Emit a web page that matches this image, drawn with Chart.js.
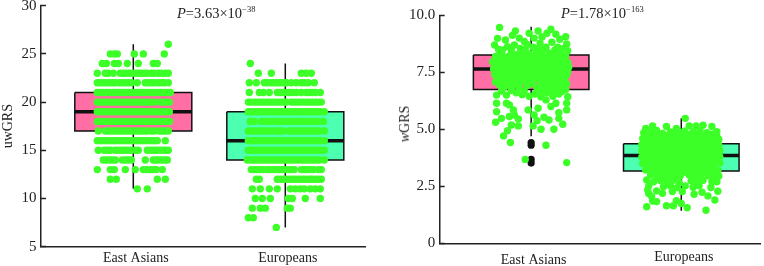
<!DOCTYPE html>
<html>
<head>
<meta charset="utf-8">
<script src="https://cdn.jsdelivr.net/npm/chart.js@4"></script>
<style>
  html, body { margin: 0; padding: 0; background: #fff; overflow: hidden; }
  body { position: relative; width: 764px; height: 266px; font-family: "Liberation Serif", serif; color: #222; }
  canvas { position: absolute; top: 0; }
  .pval { position: absolute; font-size: 14.5px; line-height: 16px; white-space: nowrap; }
  .pval sup { font-size: 8.5px; line-height: 0; vertical-align: 6px; }
  .ylab { position: absolute; font-size: 14px; transform: translate(-50%, -50%) rotate(-90deg); white-space: nowrap; }
</style>
</head>
<body>
<canvas id="uwChart" width="380" height="266" style="left:0"></canvas>
<canvas id="wChart" width="384" height="266" style="left:380px"></canvas>
<div class="pval" style="left:177px;top:5px"><i>P</i>=3.63×10<sup>−38</sup></div>
<div class="pval" style="left:561px;top:5px"><i>P</i>=1.78×10<sup>−163</sup></div>
<div class="ylab" style="left:405px;top:124px"><i>w</i>GRS</div>
<script>
const groups = ['East Asians', 'Europeans'];
// x axis is in jitter units, the two groups sit at these positions
const groupCenters = [0, 152];

// box stats: [whisker low, q1, median, q3, whisker high]
const uwEastBox = [11, 17, 19, 21, 26];
const uwEuroBox = [7, 14, 16, 19, 24];
const wEastBox = [4.7, 6.75, 7.65, 8.26, 9.5];
const wEuroBox = [1.43, 3.17, 3.85, 4.37, 5.48];
const boxHalfWidth = 58.5;

const wEastOutliers = [4.3, 4.42, 3.68, 3.52];

// uwGRS is a whole number, so dots are listed as [score, jitter offsets]
const uwEastRows = [
  [26, [35]],
  [25, [-23, -19, -16, 1, 10, 31]],
  [24, [-31, -27, -19, -15, -6, 5, 20, 24]],
  [23, [-36, -28, -25, -20, -13, -10, -7, -4, -1, 2, 5, 8, 11, 14, 18, 21, 25, 28, 32, 35]],
  [22, [-36, -33, -30, -27, -24, -21, -18, -14, -11, -8, -5, -2, 4, 12, 15, 18, 21, 25, 28, 31, 35]],
  [21, [-36, -33, -30, -27, -24, -20, -17, -14, -11, -8, -5, -2, 1, 4, 7, 10, 13, 16, 19, 22, 25, 28, 31, 34, 37]],
  [20, [-36, -33, -30, -27, -24, -21, -18, -15, -12, -9, -6, -3, 0, 3, 6, 9, 12, 15, 18, 21, 27, 30, 33, 36]],
  [19, [-36, -33, -30, -27, -24, -21, -18, -15, -12, -9, -6, -3, 0, 3, 6, 9, 12, 15, 18, 21, 24, 27, 30, 33, 36]],
  [18, [-36, -33, -30, -27, -24, -21, -18, -15, -12, -9, -6, -3, 0, 3, 6, 9, 12, 15, 18, 21, 24, 27, 30, 33, 36]],
  [17, [-35, -28, -25, -22, -19, -16, -13, -10, -7, -4, -1, 2, 5, 8, 11, 14, 18, 21, 26, 29, 32, 35]],
  [16, [-36, -33, -30, -27, -24, -21, -18, -15, -12, -9, -6, -3, 0, 3, 6, 9, 12, 15, 18, 21, 24, 32]],
  [15, [-35, -29, -26, -23, -18, -15, -12, -9, -6, -3, 2, 5, 14, 17, 20, 23, 26, 29, 32, 35]],
  [14, [-30, -27, -24, -21, -18, -11, -8, -5, -2, 12, 20, 23, 26, 29, 32, 34]],
  [13, [-36, -23, -19, -8, 2, 10, 13, 17, 20, 23, 29]],
  [12, [-23, -17, 24, 32]],
  [11, [4, 14]]
];
const uwEuroRows = [
  [24, [-35]],
  [23, [-27, -14, 16, 21, 26]],
  [22, [-36, -29, -21, -18, -15, -12, -9, -6, -3, 0, 1, 6, 11, 16, 19, 23, 29]],
  [21, [-36, -26, -22, -16, -8, -5, -2, 1, 4, 7, 11, 16, 21, 24, 27, 30, 35]],
  [20, [-37, -34, -31, -28, -25, -22, -19, -16, -13, -10, -7, -4, -1, 1, 6, 9, 12, 15, 18, 21, 24, 27, 30, 33, 36]],
  [19, [-37, -34, -31, -28, -25, -22, -19, -16, -13, -10, -7, -4, -1, 2, 5, 8, 11, 14, 17, 20, 23, 26, 29, 32, 35, 39]],
  [18, [-35, -31, -24, -21, -18, -15, -12, -9, -6, -3, 0, 3, 6, 9, 12, 15, 18, 21, 24, 27, 30, 33, 38]],
  [17, [-37, -34, -31, -27, -24, -21, -18, -15, -11, -8, -5, -2, 4, 7, 10, 13, 16, 19, 22, 25, 28, 31, 34, 39]],
  [16, [-37, -34, -31, -28, -25, -22, -19, -16, -13, -10, -7, -4, -1, 2, 5, 8, 11, 14, 17, 20, 23, 26, 29, 32, 35, 39]],
  [15, [-37, -34, -31, -28, -25, -22, -19, -16, -13, -10, -7, -4, -1, 2, 5, 8, 11, 14, 17, 20, 23, 26, 29, 32, 35, 39]],
  [14, [-38, -35, -32, -29, -26, -23, -20, -17, -14, -11, -8, -5, -2, 1, 4, 7, 10, 13, 16, 19, 22, 25, 28, 31, 34, 39]],
  [13, [-34, -31, -28, -25, -22, -18, -15, -12, -9, -6, -3, 0, 3, 6, 9, 16, 19, 22, 25, 28, 33, 36]],
  [12, [-29, -26, -8, -5, -2, 1, 4, 7, 10, 13, 16, 19, 22, 25, 27, 30, 33, 36]],
  [11, [-33, -25, -16, -8, 5, 10, 15, 19, 25, 30, 35]],
  [10, [-30, -23, -15, 3, 7, 20, 35]],
  [9, [-33, -25, -20, 2, 5]],
  [8, [-37, -32]],
  [7, [-9]]
];

// wGRS dots read as [jitter offset, score]
const wEastDots = [
  [-32, 9.47], [-16, 9.31], [-19, 9.12], [-2, 9.21], [7, 9.31], [20, 9.39], [16, 9.21], [25, 9.17], [35, 9.06],
  [-34, 8.99], [-26, 8.92], [-7, 8.85], [-37, 8.7], [36, 8.74], [3, 9.0], [11, 9.05], [29, 8.95], [-12, 9.0],
  [-33, 8.5], [-24, 8.62], [-17, 8.7], [-11, 8.55], [-4, 8.72], [2, 8.6], [9, 8.78], [15, 8.6], [21, 8.82], [27, 8.6], [33, 8.55], [37, 8.45],
  [-36, 8.2], [-30, 8.3], [-20, 8.35], [-14, 8.28], [-8, 8.4], [-2, 8.3], [5, 8.38], [11, 8.25], [18, 8.35], [24, 8.22], [30, 8.33], [35, 8.2],
  [-39, 7.95], [-33, 8.02], [-27, 8.05], [-22, 7.98], [-16, 8.05], [-10, 7.95], [-4, 8.06], [2, 7.95], [8, 8.05], [14, 7.96], [20, 8.07], [26, 7.98], [32, 8.03], [37, 7.92],
  [-38, 7.65], [-32, 7.75], [-26, 7.7], [-20, 7.78], [-14, 7.68], [-8, 7.76], [-2, 7.7], [4, 7.78], [10, 7.67], [16, 7.75], [22, 7.7], [28, 7.78], [34, 7.66], [38, 7.72],
  [-37, 7.4], [-30, 7.48], [-24, 7.42], [-18, 7.5], [-12, 7.4], [-6, 7.46], [0, 7.38], [7, 7.48], [13, 7.4], [19, 7.5], [25, 7.42], [31, 7.47], [36, 7.38],
  [-36, 7.08], [-29, 7.16], [-22, 7.1], [-17, 7.2], [-9, 7.12], [-3, 7.2], [9, 7.15], [15, 7.08], [21, 7.2], [27, 7.1], [33, 7.18], [36, 7.0],
  [-27, 6.85], [-19, 6.9], [-12, 6.84], [-4, 6.92], [6, 6.8], [12, 6.86], [18, 6.94], [24, 6.82], [30, 6.9], [35, 6.75],
  [-35, 6.5], [-25, 6.5], [-15, 6.6], [-9, 6.52], [-2, 6.45], [4, 6.55], [10, 6.42], [16, 6.6], [22, 6.45], [28, 6.55], [37, 6.43],
  [-35, 6.14], [-25, 6.14], [-22, 6.07], [-3, 5.85], [7, 5.92], [15, 6.29], [20, 6.0], [25, 6.14], [36, 6.14], [-18, 5.85],
  [-35, 5.77], [-17, 5.63], [3, 5.63], [28, 5.73], [36, 5.85], [-30, 5.48], [-22, 5.56], [-13, 5.45], [13, 5.53], [18, 5.41], [28, 5.48], [6, 5.38],
  [-36, 5.31], [-20, 5.19], [-13, 5.15], [2, 5.15], [32, 5.22], [10, 5.0], [23, 5.0], [-24, 4.94], [-28, 4.71], [-21, 4.42], [15, 4.3], [-6, 3.68], [36, 3.54],
  // dense middle of the cloud
  [-29, 8.48], [-20, 8.52], [-6, 8.5], [6, 8.52], [12, 8.5], [24, 8.48], [30, 8.5],
  [-33, 8.18], [-27, 8.16], [-23, 8.2], [-17, 8.16], [-11, 8.14], [-5, 8.18], [1, 8.15], [8, 8.18], [15, 8.14], [21, 8.18], [27, 8.15], [33, 8.12],
  [-36, 7.88], [-30, 7.86], [-24, 7.88], [-19, 7.85], [-13, 7.88], [-7, 7.86], [-1, 7.88], [5, 7.85], [11, 7.88], [17, 7.85], [23, 7.88], [29, 7.86], [35, 7.84],
  [-35, 7.56], [-29, 7.58], [-23, 7.6], [-17, 7.57], [-11, 7.58], [-5, 7.6], [1, 7.56], [7, 7.6], [13, 7.56], [19, 7.6], [25, 7.58], [31, 7.56], [37, 7.52],
  [-33, 7.28], [-27, 7.26], [-21, 7.3], [-15, 7.26], [-9, 7.28], [-2, 7.3], [4, 7.24], [10, 7.28], [16, 7.26], [22, 7.3], [28, 7.26], [34, 7.28],
  [-32, 6.95], [-25, 6.98], [-14, 7.0], [1, 7.0], [9, 6.95], [15, 6.98], [21, 7.0], [27, 6.95], [33, 6.98],
  [-30, 6.68], [-20, 6.7], [-7, 6.68], [7, 6.66], [13, 6.7], [19, 6.68], [25, 6.7], [31, 6.66]
];
const wEuroDots = [
  [4, 5.48], [-36, 5.04], [-29, 5.15], [-15, 5.12], [-5, 5.04], [8, 5.15], [15, 5.15], [22, 5.18], [31, 5.12], [36, 4.9],
  [-38, 4.85], [-32, 4.9], [-25, 4.95], [-19, 4.82], [-11, 4.88], [-2, 4.85], [3, 4.92], [12, 4.9], [19, 4.94], [26, 4.85], [32, 4.78],
  [-39, 4.6], [-33, 4.62], [-27, 4.65], [-21, 4.58], [-15, 4.62], [-9, 4.68], [-3, 4.6], [3, 4.65], [9, 4.58], [15, 4.66], [21, 4.6], [27, 4.65], [33, 4.58], [38, 4.55],
  [-40, 4.32], [-34, 4.38], [-28, 4.35], [-22, 4.4], [-16, 4.33], [-10, 4.38], [-4, 4.32], [2, 4.4], [8, 4.33], [14, 4.38], [20, 4.32], [26, 4.4], [32, 4.33], [38, 4.3],
  [-40, 4.05], [-34, 4.1], [-28, 4.02], [-22, 4.1], [-16, 4.04], [-10, 4.12], [-4, 4.05], [2, 4.1], [8, 4.02], [14, 4.1], [20, 4.05], [26, 4.12], [32, 4.04], [39, 4.08],
  [-40, 3.78], [-34, 3.84], [-28, 3.76], [-22, 3.85], [-16, 3.78], [-10, 3.85], [-4, 3.76], [2, 3.84], [8, 3.78], [14, 3.85], [20, 3.78], [26, 3.84], [32, 3.76], [39, 3.8],
  [-39, 3.5], [-33, 3.56], [-27, 3.5], [-21, 3.58], [-15, 3.5], [-9, 3.56], [-3, 3.48], [3, 3.56], [9, 3.5], [15, 3.58], [21, 3.5], [27, 3.56], [33, 3.48], [39, 3.52],
  [-36, 3.22], [-30, 3.28], [-24, 3.2], [-18, 3.3], [-12, 3.22], [-6, 3.28], [0, 3.2], [6, 3.28], [12, 3.2], [18, 3.3], [24, 3.22], [30, 3.28], [37, 3.2],
  [-31, 3.0], [-25, 2.98], [-19, 3.04], [-13, 2.95], [-7, 3.02], [-1, 2.96], [8, 3.0], [14, 2.94], [20, 3.03], [27, 2.96], [33, 3.0], [38, 2.95],
  [-35, 2.78], [-28, 2.7], [-21, 2.75], [-14, 2.68], [-8, 2.76], [-2, 2.66], [10, 2.74], [16, 2.66], [22, 2.76], [31, 2.7], [36, 2.7],
  [-33, 2.52], [-18, 2.48], [-11, 2.52], [-4, 2.45], [4, 2.52], [12, 2.46], [18, 2.52], [30, 2.45],
  [-34, 2.34], [-30, 2.05], [-33, 2.18], [-19, 2.19], [-9, 2.27], [1, 2.27], [13, 2.15], [21, 2.24], [37, 2.28], [27, 2.08], [-25, 2.3],
  [-35, 1.6], [-25, 1.83], [-29, 1.85], [-15, 1.65], [-8, 1.65], [-5, 1.87], [0, 1.75], [6, 1.56], [25, 1.45], [34, 1.9],
  // dense middle of the cloud
  [-35, 4.74], [-29, 4.78], [-23, 4.76], [-17, 4.74], [-7, 4.76], [0, 4.74], [6, 4.78], [12, 4.74], [18, 4.76], [24, 4.72], [30, 4.7], [36, 4.7],
  [-37, 4.48], [-31, 4.5], [-25, 4.48], [-19, 4.5], [-13, 4.48], [-7, 4.5], [0, 4.48], [6, 4.5], [12, 4.48], [18, 4.5], [24, 4.48], [30, 4.5], [36, 4.44],
  [-37, 4.2], [-31, 4.22], [-25, 4.2], [-19, 4.22], [-13, 4.2], [-7, 4.22], [-1, 4.2], [5, 4.22], [11, 4.2], [17, 4.22], [23, 4.2], [29, 4.22], [35, 4.18],
  [-37, 3.92], [-31, 3.94], [-25, 3.92], [-19, 3.94], [-13, 3.92], [-7, 3.94], [-1, 3.92], [5, 3.94], [11, 3.92], [17, 3.94], [23, 3.92], [29, 3.94], [36, 3.92],
  [-37, 3.64], [-31, 3.66], [-25, 3.64], [-19, 3.66], [-12, 3.64], [-6, 3.66], [0, 3.64], [6, 3.66], [12, 3.64], [18, 3.66], [24, 3.64], [30, 3.66], [36, 3.64],
  [-33, 3.36], [-27, 3.38], [-21, 3.36], [-15, 3.38], [-9, 3.36], [-3, 3.38], [3, 3.36], [9, 3.38], [15, 3.36], [21, 3.38], [27, 3.36], [33, 3.34],
  [-28, 3.12], [-21, 3.12], [-15, 3.1], [-9, 3.12], [-3, 3.1], [3, 3.12], [10, 3.1], [16, 3.12], [23, 3.1], [31, 3.1],
  [-24, 2.86], [-16, 2.84], [-10, 2.86], [-4, 2.84], [12, 2.86], [19, 2.84], [33, 2.86]
];

function rowsToDots(rows, center) {
  const dots = [];
  rows.forEach(function (row) {
    row[1].forEach(function (offset) {
      dots.push({ x: center + offset, y: row[0] });
    });
  });
  return dots;
}

function pairsToDots(pairs, center) {
  return pairs.map(function (p) { return { x: center + p[0], y: p[1] }; });
}

function boxDatasets(stats, center, fill) {
  const left = center - boxHalfWidth;
  const right = center + boxHalfWidth;
  const base = { showLine: true, pointRadius: 0, borderColor: '#111', fill: false };
  return [
    Object.assign({}, base, {
      data: [{ x: center, y: stats[0] }, { x: center, y: stats[4] }],
      borderWidth: 1.5, order: 5
    }),
    // the top edge filled down to q1 gives the box colour
    Object.assign({}, base, {
      data: [{ x: left, y: stats[3] }, { x: right, y: stats[3] }],
      borderWidth: 0, backgroundColor: fill, fill: { value: stats[1] }, order: 4
    }),
    Object.assign({}, base, {
      data: [
        { x: left, y: stats[3] }, { x: right, y: stats[3] }, { x: right, y: stats[1] },
        { x: left, y: stats[1] }, { x: left, y: stats[3] }
      ],
      borderWidth: 1.5, order: 3
    }),
    Object.assign({}, base, {
      data: [{ x: left, y: stats[2] }, { x: right, y: stats[2] }],
      borderWidth: 3.5, order: 2
    })
  ];
}

function dotDataset(dots, color, radius, order) {
  return {
    data: dots, showLine: false, pointRadius: radius, pointBorderWidth: 0,
    pointBackgroundColor: color, order: order
  };
}

function makePanel(canvasId, cfg) {
  const serif = 'Liberation Serif';
  const inkColor = '#222';
  new Chart(document.getElementById(canvasId), {
    type: 'scatter',
    data: { datasets: cfg.datasets },
    options: {
      responsive: false,
      animation: false,
      layout: { padding: { top: cfg.top, right: cfg.right, left: 0, bottom: 0 } },
      plugins: { legend: { display: false }, tooltip: { enabled: false } },
      scales: {
        x: {
          type: 'linear',
          min: cfg.xMin,
          max: cfg.xMax,
          afterBuildTicks: function (axis) {
            axis.ticks = groupCenters.map(function (v) { return { value: v }; });
          },
          afterFit: function (axis) {
            axis.height = cfg.xHeight;
            axis.paddingLeft = 0;
            axis.paddingRight = 0;
          },
          grid: { drawOnChartArea: false, drawTicks: false },
          border: { color: inkColor, width: 1.5 },
          ticks: {
            color: inkColor,
            padding: cfg.xPad,
            labelOffset: 2.5,
            maxRotation: 0,
            autoSkip: false,
            font: cfg.xFont,
            callback: function (v) { return groups[groupCenters.indexOf(v)]; }
          }
        },
        y: {
          min: cfg.yMin,
          max: cfg.yMax,
          afterFit: function (axis) {
            axis.width = cfg.yWidth;
            axis.paddingTop = 0;
            axis.paddingBottom = 0;
          },
          title: cfg.yTitle,
          grid: { drawOnChartArea: false, tickLength: -5, tickWidth: 1.5, tickColor: inkColor },
          border: { color: inkColor, width: 1.5 },
          ticks: {
            color: inkColor,
            stepSize: cfg.yStep,
            padding: 9.5,
            font: { family: serif, size: 15 },
            callback: cfg.yFormat
          }
        }
      }
    }
  });
}

const dotGreen = '#3cff28';
const boxPink = '#ff6fa6';
const boxAqua = '#4dffb0';

makePanel('uwChart', {
  datasets: [
    dotDataset(rowsToDots(uwEastRows, groupCenters[0]), dotGreen, 3.7, 0),
    dotDataset(rowsToDots(uwEuroRows, groupCenters[1]), dotGreen, 3.7, 0)
  ].concat(boxDatasets(uwEastBox, groupCenters[0], boxPink), boxDatasets(uwEuroBox, groupCenters[1], boxAqua)),
  top: 5.7, right: 15, xHeight: 19.3, yWidth: 41,
  xMin: -92.3, xMax: 231.7, yMin: 5, yMax: 30, yStep: 5,
  xPad: 3,
  xFont: { family: 'Liberation Serif', size: 14 },
  yTitle: { display: true, text: 'uwGRS', color: '#222', padding: 0, font: { family: 'Liberation Serif', size: 14 } },
  yFormat: function (v) { return v; }
});

makePanel('wChart', {
  datasets: [
    dotDataset(pairsToDots(wEastDots, groupCenters[0]), dotGreen, 3.7, 0),
    dotDataset(pairsToDots(wEuroDots, groupCenters[1]), dotGreen, 3.7, 0),
    dotDataset(wEastOutliers.map(function (v) { return { x: groupCenters[0], y: v }; }), '#111', 3.6, 1)
  ].concat(boxDatasets(wEastBox, groupCenters[0], boxPink), boxDatasets(wEuroBox, groupCenters[1], boxAqua)),
  top: 15.3, right: 0, xHeight: 22.7, yWidth: 59.7,
  xMin: -92.6, xMax: 231.7, yMin: 0, yMax: 10, yStep: 2.5,
  xPad: 6,
  // a taller line box pushes the first label down, as in the source figure
  xFont: function (ctx) {
    return { family: 'Liberation Serif', size: 14, lineHeight: ctx.index === 0 ? '23px' : '17px' };
  },
  yTitle: { display: false },
  yFormat: function (v) { return v === 0 ? '0' : v.toFixed(1); }
});
</script>
</body>
</html>
